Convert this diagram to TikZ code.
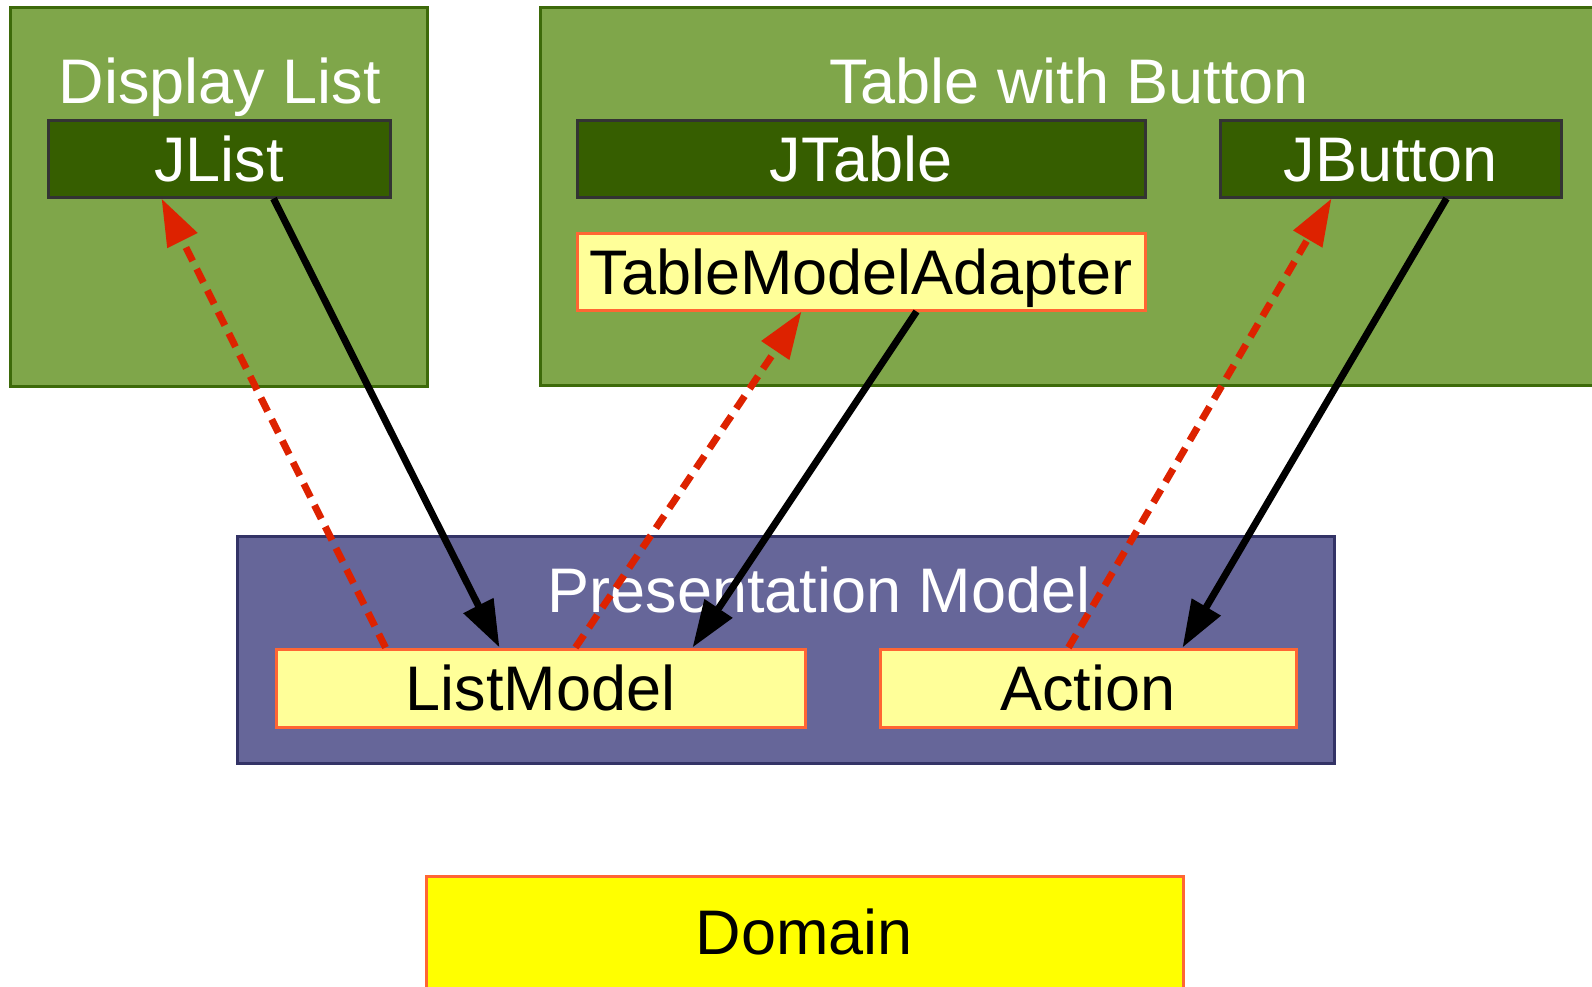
\documentclass[tikz,border=0pt]{standalone}
\usepackage{fontspec}
\setmainfont{Liberation Sans}
\usetikzlibrary{arrows.meta}
\definecolor{grpfill}{HTML}{7FA64A}
\definecolor{grpline}{HTML}{3D6A0A}
\definecolor{widgetfill}{HTML}{365E00}
\definecolor{widgetline}{HTML}{333333}
\definecolor{modelfill}{HTML}{FFFF99}
\definecolor{modelline}{HTML}{FF6633}
\definecolor{pmfill}{HTML}{666699}
\definecolor{pmline}{HTML}{333366}
\definecolor{domainfill}{HTML}{FFFF00}
\definecolor{bindred}{HTML}{DD2200}
\tikzset{
  lbl/.style={font=\fontsize{63}{70}\selectfont, text height=45pt, text depth=0pt, inner sep=0pt},
  boxbase/.style={lbl, rectangle, draw, line width=3pt},
  group/.style={boxbase, fill=grpfill, draw=grpline},
  widget/.style={boxbase, fill=widgetfill, draw=widgetline, text=white},
  model/.style={boxbase, fill=modelfill, draw=modelline, text=black},
  pmbox/.style={boxbase, fill=pmfill, draw=pmline},
  domainbox/.style={boxbase, fill=domainfill, draw=modelline, text=black},
  title/.style={lbl, text=white},
  listens/.style={draw=bindred, line width=7pt, dash pattern=on 15pt off 9pt,
    -{Triangle[length=47pt,width=32pt]}, color=bindred},
  updates/.style={draw=black, line width=7pt, -{Triangle[length=47pt,width=32pt]}}
}
\begin{document}
\begin{tikzpicture}[x=1pt,y=-1pt]
\clip (0,0) rectangle (1592,986);
\useasboundingbox (0,0) rectangle (1592,986);
\fill[white] (0,0) rectangle (1592,986);

% view groups
\node[group, minimum width=417pt, minimum height=379pt] (dlist) at (218.5,196.5) {};
\node[group, minimum width=1080pt, minimum height=378pt] (twb) at (1080,196) {};
\node[title] (dltitle) at (220,80.5) {Display List};
\node[title] (twbtitle) at (1069,80.5) {Table with Button};

% widgets
\node[widget, minimum width=342pt, minimum height=77pt] (jlist) at (219,158.5) {JList};
\node[widget, minimum width=568pt, minimum height=77pt] (jtable) at (861,158.5) {JTable};
\node[widget, minimum width=341pt, minimum height=77pt] (jbutton) at (1390.5,158.5) {JButton};
\node[model, minimum width=568pt, minimum height=77pt] (tma) at (861,271.5) {TableModelAdapter};

% presentation model
\node[pmbox, minimum width=1097pt, minimum height=227pt] (pm) at (785.5,649.5) {};
\node[title] (pmtitle) at (819,589.5) {Presentation Model};
\node[model, minimum width=529pt, minimum height=78pt] (listmodel) at (540.5,688) {ListModel};
\node[model, minimum width=416pt, minimum height=78pt] (action) at (1088,688) {Action};

% domain
\node[domainbox, minimum width=757pt, minimum height=112pt] (domain) at (804.5,932) {Domain};

% bindings
\draw[listens] ([xshift=111pt]listmodel.north west) -- ([xshift=115pt]jlist.south west);
\draw[updates] ([xshift=227pt]jlist.south west) -- ([xshift=225pt]listmodel.north west);
\draw[listens] ([xshift=301pt]listmodel.north west) -- ([xshift=226pt]tma.south west);
\draw[updates] ([xshift=341pt]tma.south west) -- ([xshift=418pt]listmodel.north west);
\draw[listens] ([xshift=190pt]action.north west) -- ([xshift=113pt]jbutton.south west);
\draw[updates] ([xshift=228pt]jbutton.south west) -- ([xshift=304pt]action.north west);
\end{tikzpicture}
\end{document}
